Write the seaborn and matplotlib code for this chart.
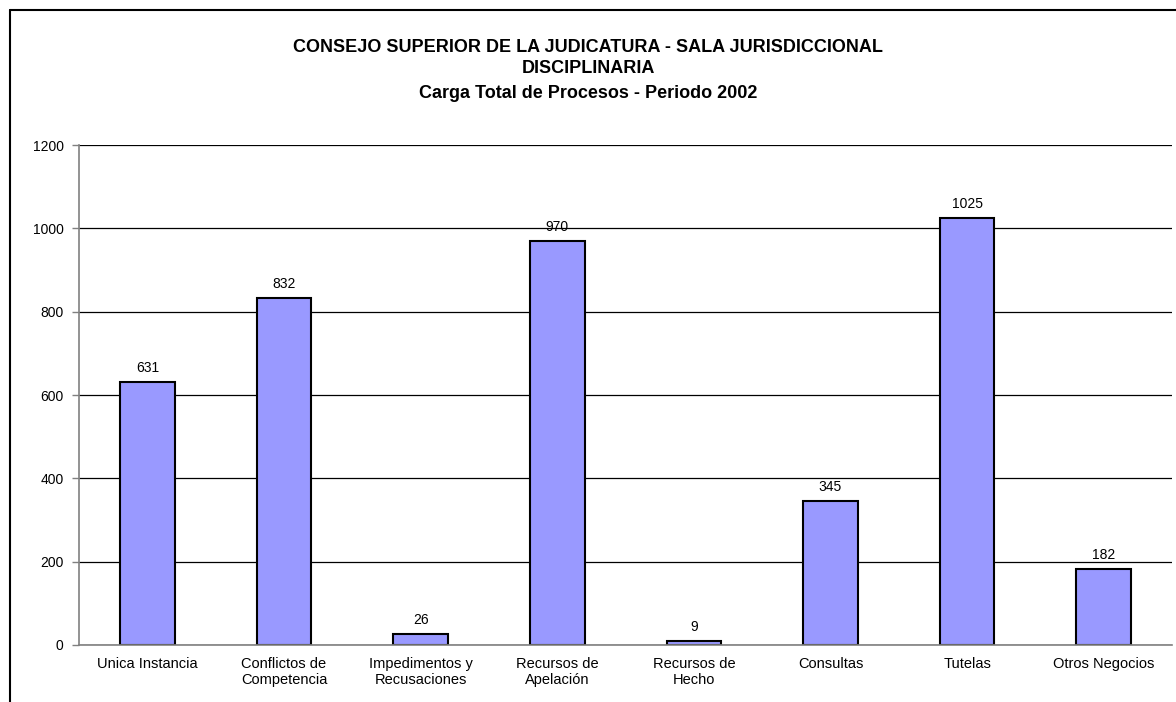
import seaborn as sns
import pandas as pd
import matplotlib.pyplot as plt
from matplotlib.lines import Line2D

categories = [
    "Unica Instancia", "Conflictos de\nCompetencia", "Impedimentos y\nRecusaciones",
    "Recursos de\nApelación", "Recursos de\nHecho", "Consultas", "Tutelas",
    "Otros Negocios"
]
values = [631, 832, 26, 970, 9, 345, 1025, 182]
title_lines = [
    "CONSEJO SUPERIOR DE LA JUDICATURA - SALA JURISDICCIONAL",
    "DISCIPLINARIA",
    "Carga Total de Procesos - Periodo 2002",
]

sns.set_theme(style="white")
plt.rcParams["font.family"] = ["Liberation Sans", "DejaVu Sans"]
plt.rcParams["text.color"] = "black"
plt.rcParams["xtick.color"] = "black"
plt.rcParams["ytick.color"] = "black"

data = pd.DataFrame({"categoria": categories, "procesos": values})

fig = plt.figure(figsize=[11.76, 7.02], dpi=100)
ax = fig.add_axes([0.0672, 0.0812, 0.9294, 0.7122])
sns.barplot(x="categoria", y="procesos", data=data, order=categories,
            color="#9999FF", saturation=1, width=0.4,
            edgecolor="black", linewidth=1.5, ax=ax)

ax.set_ylim(0, 1200)
ax.set_xlim(-0.5, len(categories) - 0.5)
ax.set_yticks(range(0, 1201, 200))
ax.yaxis.grid(True, color="black", linewidth=0.9)
ax.set_axisbelow(True)
for side in ["top", "right"]:
    ax.spines[side].set_visible(False)
for side in ["left", "bottom"]:
    ax.spines[side].set_color("#808080")
    ax.spines[side].set_linewidth(1.2)

ax.set_xticks([i - 0.5 for i in range(len(categories) + 1)], minor=True)
ax.tick_params(axis="x", which="major", length=0, pad=9, labelsize=10.5)
ax.tick_params(axis="x", which="minor", length=5, width=1, color="#808080", direction="out")
ax.tick_params(axis="y", which="major", length=5, width=1, color="#808080",
               direction="out", left=True, labelsize=10, pad=6)
for lbl in ax.get_xticklabels():
    lbl.set_linespacing(1.15)

ax.bar_label(ax.containers[0], padding=5, fontsize=10)
ax.set_xlabel("")
ax.set_ylabel("")

fig.text(0.5, 0.933, title_lines[0], ha="center", va="center", fontsize=13, fontweight="bold")
fig.text(0.5, 0.902, title_lines[1], ha="center", va="center", fontsize=13, fontweight="bold")
fig.text(0.5, 0.867, title_lines[2], ha="center", va="center", fontsize=13, fontweight="bold")

# outer chart frame (cut off at right and bottom in the original)
fig.add_artist(Line2D([10 / 1176, 1], [1 - 10 / 702, 1 - 10 / 702], color="black", linewidth=1.5,
                      transform=fig.transFigure))
fig.add_artist(Line2D([10 / 1176, 10 / 1176], [0, 1 - 10 / 702], color="black", linewidth=1.5,
                      transform=fig.transFigure))

fig.savefig("out.png", dpi=100)
